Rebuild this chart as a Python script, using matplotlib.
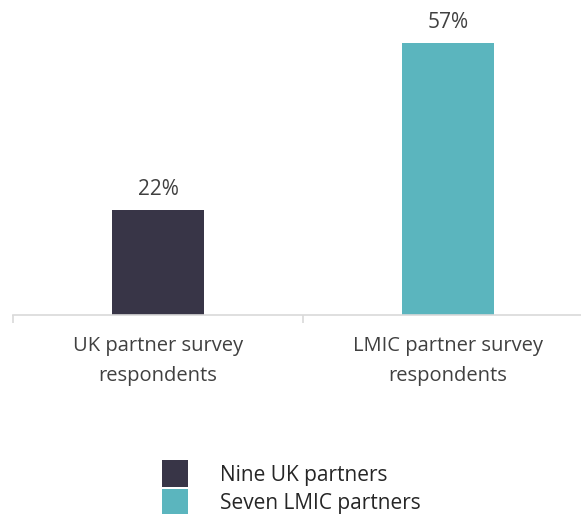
import matplotlib
matplotlib.use('Agg')
import matplotlib.pyplot as plt
from matplotlib.patches import Patch

categories = ['UK partner survey\nrespondents', 'LMIC partner survey\nrespondents']
values = [22, 57]
legend_labels = ['Nine UK partners', 'Seven LMIC partners']
colors = ['#383547', '#5BB5BE']

plt.rcParams['font.family'] = ['Open Sans', 'DejaVu Sans']

fig = plt.figure(figsize=(5.81, 5.14), dpi=100)
ax = fig.add_axes([13 / 581, (514 - 315) / 514, 1 - 13 / 581, 310 / 514])

xs = range(len(values))
ax.bar(xs, values, width=0.317, color=colors)
for x, v in zip(xs, values):
    ax.text(x, v + 3.1, '%d%%' % v, ha='center', va='baseline', fontsize=15, color='#404040')

ax.set_yticks([])
for s in ['top', 'right', 'left']:
    ax.spines[s].set_visible(False)
ax.spines['bottom'].set_color('#d9d9d9')
ax.spines['bottom'].set_linewidth(1.2)

ax.set_xticks(list(xs))
ax.set_xticklabels(categories, fontsize=14.5, color='#404040', linespacing=1.7)
ax.tick_params(axis='x', which='major', length=0, pad=15)
ax.set_xticks([-0.5, 0.5, 1.5], minor=True)
ax.tick_params(axis='x', which='minor', length=6, color='#d9d9d9', width=1.2)
# limits after the ticks, otherwise set_xticks widens them
ax.set_xlim(-0.5, 1.459)
ax.set_ylim(0, 310 / 4.78)

handles = [Patch(facecolor=c, edgecolor='none') for c in colors]
fig.legend(handles, legend_labels, loc='upper left', bbox_to_anchor=(152 / 581, 1 - 450 / 514),
           frameon=False, fontsize=15, handlelength=1.25, handleheight=1.6, borderpad=0,
           labelspacing=0.1, handletextpad=1.5, labelcolor='#262626')

fig.savefig('out.png', dpi=100)
